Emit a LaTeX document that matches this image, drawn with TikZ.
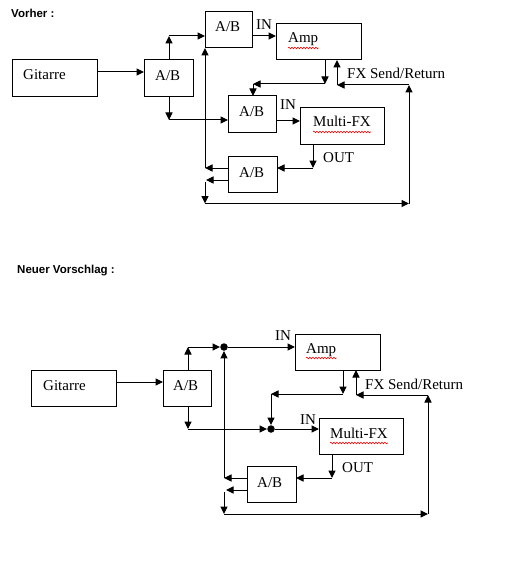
\documentclass[tikz,border=0pt]{standalone}
\usepackage{fontspec}
\setmainfont{Liberation Serif}
\setsansfont{Liberation Sans}
\usetikzlibrary{arrows.meta,decorations.pathmorphing}
\begin{document}
\begin{tikzpicture}[x=1pt,y=-1pt,
  box/.style={draw, line width=1pt, inner sep=0pt, outer sep=0pt},
  arr/.style={line width=1pt, -{Triangle[length=7.5pt,width=7pt]}},
  lbl/.style={anchor=base west, inner sep=0pt, font=\fontsize{15}{18}\selectfont},
  ttl/.style={anchor=base west, inner sep=0pt, font=\fontsize{11.5}{14}\selectfont\sffamily\bfseries},
  dotnode/.style={circle, fill, inner sep=0pt, minimum size=7.5pt},
  wavy/.style={red, line width=0.6pt, decorate, decoration={snake, amplitude=0.8pt, segment length=3pt}}]
\useasboundingbox[fill=white] (0,0) rectangle (514,583);

% ================= Vorher =================
\node[ttl] (t1) at (11,18) {Vorher :};

\node[box, minimum width=85pt, minimum height=37pt] (git1) at (54.5,78.5) {};
\node[box, minimum width=49pt, minimum height=37pt] (ab1) at (168.5,78.5) {};
\node[box, minimum width=47pt, minimum height=36pt] (abT) at (228.5,30) {};
\node[box, minimum width=85pt, minimum height=36pt] (amp1) at (318.5,42) {};
\node[box, minimum width=48pt, minimum height=36pt] (ab2) at (252,114) {};
\node[box, minimum width=84pt, minimum height=36pt] (mfx1) at (342,126) {};
\node[box, minimum width=49pt, minimum height=36pt] (ab3) at (252.5,174) {};

\node[lbl] (tgit1) at (23,80) {Gitarre};
\node[lbl] (tab1) at (155,80.5) {A/B};
\node[lbl] (tabT) at (215,32) {A/B};
\node[lbl] (tin1) at (256,30) {IN};
\node[lbl] (tamp1) at (288,43) {Amp};
\node[lbl] (tfx1) at (347,79) {FX Send/Return};
\node[lbl] (tab2) at (239,116.5) {A/B};
\node[lbl] (tin2) at (280,110) {IN};
\node[lbl] (tmfx1) at (313,126) {Multi-FX};
\node[lbl] (tout1) at (323,162) {OUT};
\node[lbl] (tab3) at (239,177) {A/B};

\draw[wavy] ([yshift=-5pt]tamp1.base west) -- ([yshift=-5pt]tamp1.base east);
\draw[wavy] ([yshift=-6pt]tmfx1.base west) -- ([yshift=-6pt]tmfx1.base east);

\coordinate (g1) at (97,72);
\draw[arr] (g1) -- (g1 -| ab1.west);
\coordinate (u1) at (169,36);
\draw[arr] (ab1.north -| u1) -- (u1);
\draw[arr] (u1) -- (u1 -| abT.west);
\coordinate (d1) at (169,120);
\draw[arr] (ab1.south -| d1) -- (d1);
\draw[arr] (d1) -- (d1 -| ab2.west);
\coordinate (i1) at (252,36);
\draw[arr] (i1) -- (i1 -| amp1.west);
\coordinate (a1) at (325,84);
\coordinate (a2) at (253,84);
\draw[arr] (amp1.south -| a1) -- (a1);
\draw[arr] (a1) -- (a2);
\draw[arr] (a2) -- (a2 |- ab2.north);
\coordinate (i2) at (276,121);
\draw[arr] (i2) -- (i2 -| mfx1.west);
\coordinate (o1) at (313,168);
\draw[arr] (mfx1.south -| o1) -- (o1);
\draw[arr] (o1) -- (o1 -| ab3.east);
\coordinate (l1) at (205,168);
\draw[arr] (l1 -| ab3.west) -- (l1);
\draw[arr] (l1) -- (l1 |- abT.south);
\coordinate (l2) at (206,180);
\draw[arr] (l2 -| ab3.west) -- (l2);
\coordinate (b1) at (205,182);
\coordinate (b2) at (205,203.5);
\coordinate (r1) at (409,203.5);
\coordinate (r2) at (409,85);
\coordinate (f1) at (337,85);
\draw[arr] (b1) -- (b2);
\draw[arr] (b2) -- (r1);
\draw[arr] (r1) -- (r2);
\draw[arr] (r2) -- (f1);
\draw[arr] (f1) -- (f1 |- amp1.south);

% ================= Neuer Vorschlag =================
\node[ttl] (t2) at (17,273) {Neuer Vorschlag :};

\node[box, minimum width=85pt, minimum height=36pt] (git2) at (73.5,388) {};
\node[box, minimum width=48pt, minimum height=36pt] (ab4) at (187,388) {};
\node[box, minimum width=85pt, minimum height=36pt] (amp2) at (337.5,352) {};
\node[box, minimum width=84pt, minimum height=36pt] (mfx2) at (361,436) {};
\node[box, minimum width=49pt, minimum height=36pt] (ab5) at (271.5,484) {};

\node[lbl] (tgit2) at (43,390) {Gitarre};
\node[lbl] (tab4) at (173,390) {A/B};
\node[lbl] (tin3) at (275,340.5) {IN};
\node[lbl] (tamp2) at (306,353) {Amp};
\node[lbl] (tfx2) at (365,389) {FX Send/Return};
\node[lbl] (tin4) at (300,424) {IN};
\node[lbl] (tmfx2) at (330,438) {Multi-FX};
\node[lbl] (tout2) at (342,472.5) {OUT};
\node[lbl] (tab5) at (257,487) {A/B};

\draw[wavy] ([yshift=-5pt]tamp2.base west) -- ([yshift=-5pt]tamp2.base east);
\draw[wavy] ([yshift=-5pt]tmfx2.base west) -- ([yshift=-5pt]tmfx2.base east);

\node[dotnode] (dot1) at (224,347) {};
\node[dotnode] (dot2) at (271,429) {};

\coordinate (g2) at (116,382);
\draw[arr] (g2) -- (g2 -| ab4.west);
\coordinate (u2) at (188,347);
\draw[arr] (ab4.north -| u2) -- (u2);
\draw[arr] (u2) -- (dot1);
\draw[arr] (dot1) -- (dot1 -| amp2.west);
\coordinate (d2) at (188,429);
\draw[arr] (ab4.south -| d2) -- (d2);
\draw[arr] (d2) -- (dot2);
\draw[arr] (dot2) -- (dot2 -| mfx2.west);
\coordinate (a3) at (343,394);
\coordinate (a4) at (271,394);
\draw[arr] (amp2.south -| a3) -- (a3);
\draw[arr] (a3) -- (a4);
\draw[arr] (a4) -- (dot2);
\coordinate (o2) at (332,478);
\draw[arr] (mfx2.south -| o2) -- (o2);
\draw[arr] (o2) -- (o2 -| ab5.east);
\coordinate (l3) at (224,478);
\draw[arr] (l3 -| ab5.west) -- (l3);
\draw[arr] (l3) -- (dot1);
\coordinate (l4) at (226,490);
\draw[arr] (l4 -| ab5.west) -- (l4);
\coordinate (b3) at (224,492);
\coordinate (b4) at (224,514);
\coordinate (r3) at (428,514);
\coordinate (r4) at (428,395);
\coordinate (f2) at (356,395);
\draw[arr] (b3) -- (b4);
\draw[arr] (b4) -- (r3);
\draw[arr] (r3) -- (r4);
\draw[arr] (r4) -- (f2);
\draw[arr] (f2) -- (f2 |- amp2.south);
\end{tikzpicture}
\end{document}
